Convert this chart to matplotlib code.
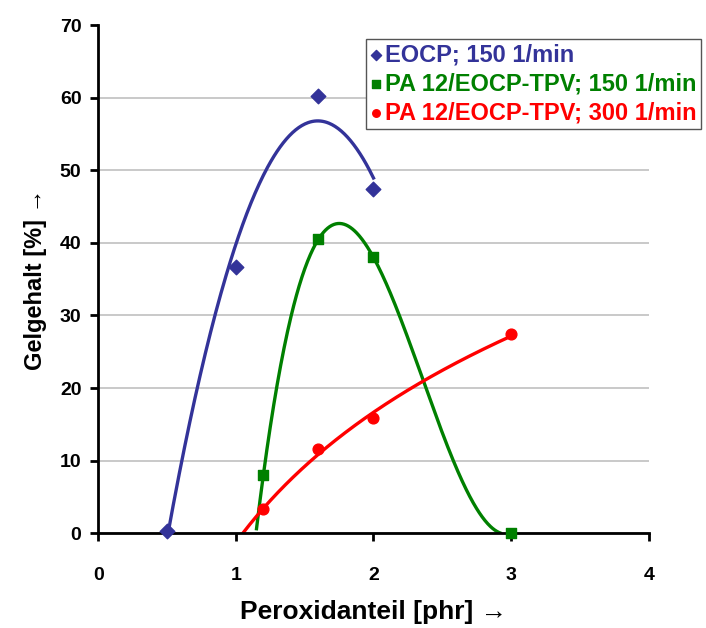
import numpy as np
import matplotlib
matplotlib.use('Agg')
import matplotlib.pyplot as plt

plt.rcParams['font.family'] = ['Liberation Sans', 'DejaVu Sans']

# Messwerte
eocp_x = [0.5, 1.0, 1.6, 2.0]
eocp_y = [0.3, 36.7, 60.3, 47.4]
tpv150_x = [1.2, 1.6, 2.0, 3.0]
tpv150_y = [8.0, 40.5, 38.0, 0.0]
tpv300_x = [1.2, 1.6, 2.0, 3.0]
tpv300_y = [3.3, 11.6, 15.8, 27.4]

labels = ['EOCP; 150 1/min', 'PA 12/EOCP-TPV; 150 1/min', 'PA 12/EOCP-TPV; 300 1/min']
colors = ['#333399', '#008000', '#ff0000']

fig = plt.figure(figsize=(7.06, 6.28), dpi=100)
ax = fig.add_axes([0.139, 0.151, 0.780, 0.809])

# Trendlinien
c_blue = np.polyfit(eocp_x, eocp_y, 2)
xb = np.linspace(min(eocp_x), max(eocp_x), 200)
ax.plot(xb, np.polyval(c_blue, xb), color=colors[0], lw=2.4, zorder=2)

c_green = np.polyfit(tpv150_x, tpv150_y, 3)
xg = np.linspace(1.0, max(tpv150_x), 400)
yg = np.polyval(c_green, xg)
m = yg >= 0
ax.plot(xg[m], yg[m], color=colors[1], lw=2.4, zorder=2)

c_red = np.polyfit(np.log(tpv300_x), tpv300_y, 1)
xr = np.linspace(1.0, max(tpv300_x), 400)
yr = np.polyval(c_red, np.log(xr))
m = yr >= 0
ax.plot(xr[m], yr[m], color=colors[2], lw=2.4, zorder=2)

h1 = ax.scatter(eocp_x, eocp_y, marker='D', s=55, color=colors[0], zorder=3, clip_on=False)
h2 = ax.scatter(tpv150_x, tpv150_y, marker='s', s=60, color=colors[1], zorder=3, clip_on=False)
h3 = ax.scatter(tpv300_x, tpv300_y, marker='o', s=60, color=colors[2], zorder=3, clip_on=False)

ax.set_xlim(0, 4)
ax.set_ylim(0, 70)
ax.set_xticks([0, 1, 2, 3, 4])
ax.set_yticks(range(0, 71, 10))
ax.spines['top'].set_visible(False)
ax.spines['right'].set_visible(False)
ax.spines['left'].set_linewidth(2)
ax.spines['bottom'].set_linewidth(2)
ax.tick_params(width=2, length=6, direction='out', labelsize=14)
ax.tick_params(axis='x', pad=18)
ax.tick_params(axis='y', pad=6)
for t in ax.get_xticklabels() + ax.get_yticklabels():
    t.set_fontweight('bold')

ax.yaxis.grid(True, color='#c0c0c0', lw=1.2)
ax.yaxis.get_gridlines()[-1].set_visible(False)
ax.set_axisbelow(True)

ax.set_xlabel('Peroxidanteil [phr] →', fontsize=19, fontweight='bold')
ax.xaxis.set_label_coords(0.5, -0.132)
ax.set_ylabel('Gelgehalt [%] →', fontsize=17, fontweight='bold', labelpad=9)

leg = fig.legend([h1, h2, h3], labels, loc='upper left',
                 bbox_to_anchor=(0.518, 0.938), bbox_transform=fig.transFigure,
                 borderaxespad=0,
                 frameon=True, fancybox=False, edgecolor='#555555', framealpha=1,
                 handlelength=0.5, handletextpad=0.1, borderpad=0.2, labelspacing=0.25,
                 markerscale=0.7, prop={'size': 17, 'weight': 'bold'})
for txt, c in zip(leg.get_texts(), colors):
    txt.set_color(c)

fig.savefig('out.png', dpi=100)
